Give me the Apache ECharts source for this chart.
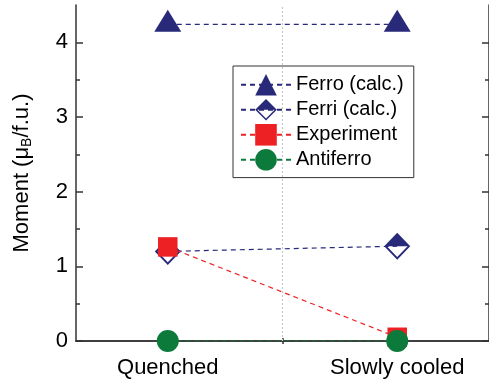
<!DOCTYPE html>
<html>
<head>
<meta charset="utf-8">
<script src="https://cdn.jsdelivr.net/npm/echarts@6/dist/echarts.min.js"></script>
<style>
  html, body { margin: 0; padding: 0; background: #fff; }
  #chart { width: 489px; height: 386px; }
</style>
</head>
<body>
<div id="chart"></div>
<script>
// Magnetic moment per formula unit for the two heat treatments
const categories = ['Quenched', 'Slowly cooled'];
const ferroCalc = [4.24, 4.24];
const ferriCalc = [1.2, 1.27];
const experiment = [1.26, 0.05];
const antiferro = [0, 0];
const yMajorTicks = [0, 1, 2, 3, 4];
const yMinorTicks = [0.5, 1.5, 2.5, 3.5];

const FONT = "'Liberation Sans', Arial, Helvetica, sans-serif";
const NAVY = '#29297a';
const RED = '#ed2024';
const GREEN = '#0b7a3b';
const AXIS = '#333333';

// category i sits at x = i + 1 on a value axis
const catX = categories.map((c, i) => i + 1);
const toPoints = arr => catX.map((x, i) => [x, arr[i]]);
const midX = (catX[0] + catX[1]) / 2;

// diamond whose upper half is solid and lower half is an outline
const halfDiamond = 'path://M0,10L10,0L20,10ZM0,10L10,20L20,10L18,10L10,18L2,10Z';

const gridRect = { left: 76, top: 5, width: 415, height: 336 };
const xRange = { min: 0.6, max: 2.4 };
const yRange = { min: 0, max: 4.5 };

const chart = echarts.init(document.getElementById('chart'), null, { renderer: 'canvas' });

const dashed = (color) => ({ color: color, width: 1.2, type: [5, 4] });
const tickStyle = { color: AXIS, width: 1.5 };

chart.setOption({
  animation: false,
  backgroundColor: '#fff',
  textStyle: { fontFamily: FONT },
  grid: [
    Object.assign({}, gridRect),
    Object.assign({}, gridRect)
  ],
  xAxis: [
    {
      gridIndex: 0, type: 'value', position: 'bottom',
      min: xRange.min, max: xRange.max,
      axisLine: { show: true, lineStyle: tickStyle },
      axisTick: { show: true, inside: true, length: 6, customValues: catX, lineStyle: tickStyle },
      axisLabel: {
        show: true, customValues: catX, margin: 16,
        fontSize: 22, color: '#000', fontFamily: FONT,
        formatter: v => categories[Math.round(v) - 1] || ''
      },
      splitLine: { show: false }
    },
    {
      gridIndex: 0, type: 'value', position: 'top',
      min: xRange.min, max: xRange.max,
      axisLine: { show: true, lineStyle: tickStyle },
      axisTick: { show: true, inside: true, length: 6, customValues: catX, lineStyle: tickStyle },
      axisLabel: { show: false },
      splitLine: { show: false }
    },
    {
      gridIndex: 1, type: 'value', position: 'bottom',
      min: xRange.min, max: xRange.max,
      axisLine: { show: false },
      axisTick: { show: true, inside: true, length: 3, customValues: [midX], lineStyle: tickStyle },
      axisLabel: { show: false },
      splitLine: { show: false }
    },
    {
      gridIndex: 1, type: 'value', position: 'top',
      min: xRange.min, max: xRange.max,
      axisLine: { show: false },
      axisTick: { show: true, inside: true, length: 3, customValues: [midX], lineStyle: tickStyle },
      axisLabel: { show: false },
      splitLine: { show: false }
    }
  ],
  yAxis: [
    {
      gridIndex: 0, type: 'value', position: 'left',
      min: yRange.min, max: yRange.max,
      name: '{m|Moment (μ}{sub|B}{m|/f.u.)}',
      nameLocation: 'middle', nameGap: 42, nameRotate: 90,
      nameTextStyle: {
        rich: {
          m: { fontSize: 22, color: '#000', fontFamily: FONT, lineHeight: 24 },
          sub: { fontSize: 14, color: '#000', fontFamily: FONT, lineHeight: 14, verticalAlign: 'bottom', padding: [10, 0, 0, 0] }
        }
      },
      axisLine: { show: true, lineStyle: tickStyle },
      axisTick: { show: true, inside: true, length: 7, customValues: yMajorTicks, lineStyle: tickStyle },
      axisLabel: { show: true, customValues: yMajorTicks, margin: 8, fontSize: 22, color: '#000', fontFamily: FONT },
      splitLine: { show: false }
    },
    {
      gridIndex: 0, type: 'value', position: 'right',
      min: yRange.min, max: yRange.max,
      axisLine: { show: true, lineStyle: tickStyle },
      axisTick: { show: true, inside: true, length: 7, customValues: yMajorTicks, lineStyle: tickStyle },
      axisLabel: { show: false },
      splitLine: { show: false }
    },
    {
      gridIndex: 1, type: 'value', position: 'left',
      min: yRange.min, max: yRange.max,
      axisLine: { show: false },
      axisTick: { show: true, inside: true, length: 4, customValues: yMinorTicks, lineStyle: tickStyle },
      axisLabel: { show: false },
      splitLine: { show: false }
    },
    {
      gridIndex: 1, type: 'value', position: 'right',
      min: yRange.min, max: yRange.max,
      axisLine: { show: false },
      axisTick: { show: true, inside: true, length: 4, customValues: yMinorTicks, lineStyle: tickStyle },
      axisLabel: { show: false },
      splitLine: { show: false }
    }
  ],
  legend: {
    left: 233, top: 66,
    orient: 'vertical',
    itemWidth: 50, itemHeight: 27, itemGap: 3.4,
    padding: [8, 10, 7, 7],
    borderColor: '#333', borderWidth: 1,
    backgroundColor: '#fff',
    textStyle: { fontSize: 20, color: '#000', fontFamily: FONT },
    data: ['Ferro (calc.)', 'Ferri (calc.)', 'Experiment', 'Antiferro']
  },
  series: [
    {
      name: 'Ferro (calc.)', type: 'line',
      xAxisIndex: 0, yAxisIndex: 0,
      data: toPoints(ferroCalc),
      symbol: 'triangle', symbolSize: [27, 22], symbolOffset: [0, -3.7],
      itemStyle: { color: NAVY },
      lineStyle: dashed(NAVY),
      markLine: {
        silent: true, symbol: 'none',
        label: { show: false },
        lineStyle: { color: '#c8c8c8', width: 1.2, type: [2, 2] },
        data: [{ xAxis: midX }]
      },
      z: 3
    },
    {
      name: 'Ferri (calc.)', type: 'line',
      xAxisIndex: 0, yAxisIndex: 0,
      data: toPoints(ferriCalc),
      symbol: halfDiamond, symbolSize: [26, 27],
      itemStyle: { color: NAVY, borderWidth: 0 },
      lineStyle: dashed(NAVY),
      z: 4
    },
    {
      name: 'Experiment', type: 'line',
      xAxisIndex: 0, yAxisIndex: 0,
      data: toPoints(experiment),
      symbol: 'rect', symbolSize: 19.5,
      itemStyle: { color: RED },
      lineStyle: dashed(RED),
      z: 5
    },
    {
      name: 'Antiferro', type: 'line',
      xAxisIndex: 0, yAxisIndex: 0,
      data: toPoints(antiferro),
      symbol: 'circle', symbolSize: 22,
      itemStyle: { color: GREEN },
      lineStyle: dashed(GREEN),
      z: 6
    }
  ]
});
</script>
</body>
</html>
